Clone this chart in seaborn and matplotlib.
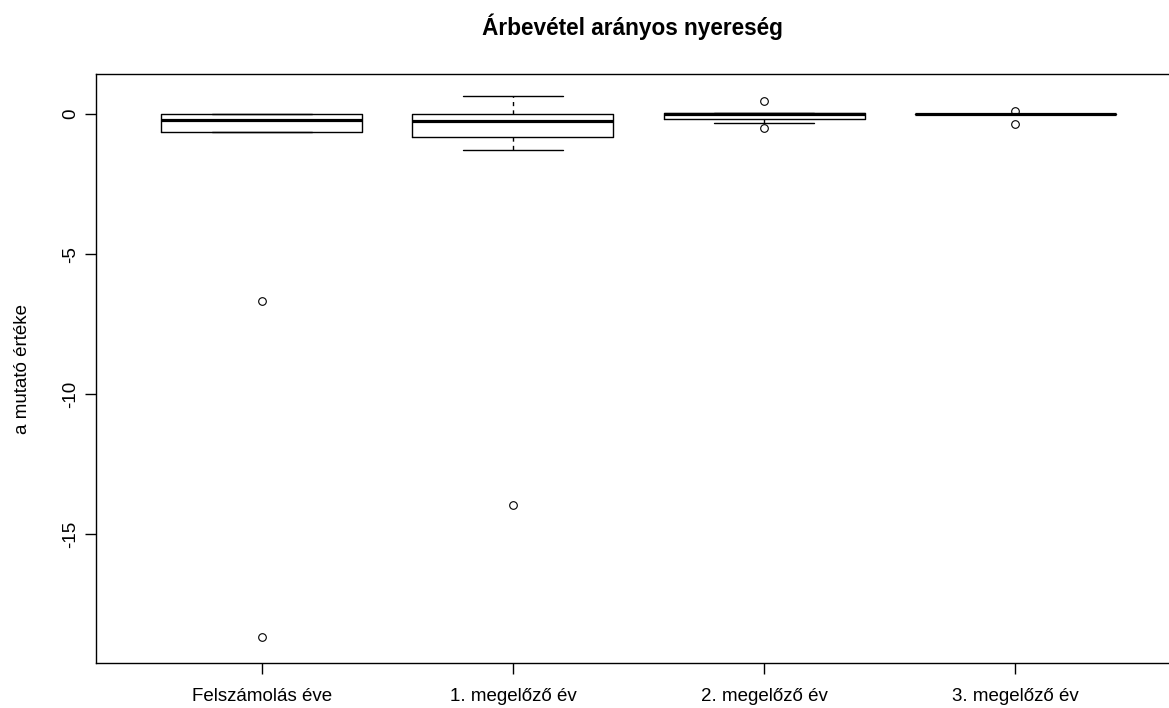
import numpy as np
import pandas as pd
import matplotlib
matplotlib.use("Agg")
import matplotlib.pyplot as plt
import seaborn as sns

# values (per group, so the quartiles / outliers match)
groups = ["Felszámolás éve", "1. megelőző év", "2. megelőző év", "3. megelőző év"]
felszamolas_eve = [-18.66, -6.68, -0.65, -0.65, -0.30, -0.12, 0.0, 0.0, 0.0, 0.0]
megelozo_1 = [-13.95, -1.28, -0.81, -0.81, -0.60, -0.24, -0.10, 0.0, 0.0, 0.30, 0.64]
megelozo_2 = [-0.51, -0.33, -0.18, -0.18, -0.10, 0.0, 0.0, 0.02, 0.02, 0.02, 0.47]
megelozo_3 = [-0.37, 0.0, 0.0, 0.0, 0.0, 0.0, 0.0, 0.0, 0.0, 0.09]

yticks = [0, -5, -10, -15]
ytick_labels = ["0", "-5", "-10", "-15"]


def main():
    df = pd.DataFrame({
        "group": np.repeat(groups, [len(felszamolas_eve), len(megelozo_1),
                                    len(megelozo_2), len(megelozo_3)]),
        "value": felszamolas_eve + megelozo_1 + megelozo_2 + megelozo_3,
    })

    sns.set_style("ticks")
    plt.rcParams['font.family'] = ['Liberation Sans', 'DejaVu Sans']
    plt.rcParams['axes.unicode_minus'] = False
    plt.rcParams['text.color'] = 'black'
    plt.rcParams['axes.labelcolor'] = 'black'

    fig = plt.figure(figsize=(11.69, 7.08), dpi=100)
    # R-like plot region (right edge runs slightly past the image)
    ax = fig.add_axes([96 / 1169, 45 / 708, 1085 / 1169, 589 / 708])

    sns.boxplot(
        data=df, x="group", y="value", order=groups, ax=ax,
        fill=False, color="black", linecolor="black",
        width=0.8, whis=1.5, linewidth=1.0, fliersize=5.5,
        whiskerprops=dict(linestyle=(0, (3, 3)), linewidth=1.0),
        medianprops=dict(linewidth=2.3, color="black"),
        flierprops=dict(marker="o", markerfacecolor="none",
                        markeredgecolor="black", markeredgewidth=0.8),
    )

    ax.set_xlim(-0.66, 3.66)
    ax.set_ylim(-19.59, 1.427)

    for s in ax.spines.values():
        s.set_visible(True)
        s.set_color("black")
        s.set_linewidth(1.0)

    ax.set_yticks(yticks)
    ax.set_yticklabels(ytick_labels, rotation=90, va="center")
    ax.tick_params(axis="both", direction="out", length=7.9, width=1.0,
                   colors="black", labelsize=13.5)
    ax.tick_params(axis="x", pad=10)
    ax.tick_params(axis="y", pad=4)

    ax.set_xlabel("")
    ax.set_ylabel("a mutató értéke", fontsize=13.5, va="center", color="black")
    ax.yaxis.set_label_coords(-0.068, 0.5)

    fig.text(632 / 1169, 1 - 35 / 708, "Árbevétel arányos nyereség",
             ha="center", va="baseline", fontsize=16.3, fontweight="bold",
             color="black")

    fig.savefig("out.png", dpi=100)
    plt.close(fig)


if __name__ == "__main__":
    main()
